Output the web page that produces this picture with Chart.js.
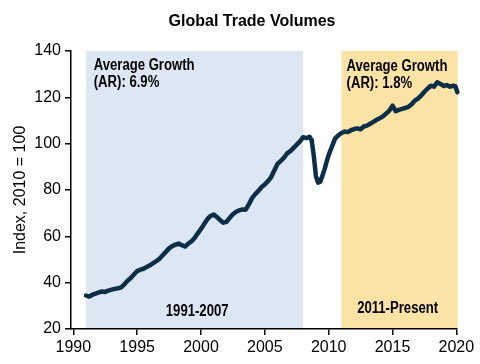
<!DOCTYPE html>
<html>
<head>
<meta charset="utf-8">
<script src="https://cdn.jsdelivr.net/npm/chart.js@4.4.1/dist/chart.umd.min.js"></script>
<style>
  html, body { margin: 0; padding: 0; background: #fff; }
</style>
</head>
<body>
<canvas id="tradeChart" width="480" height="364"></canvas>
<script>
// Global trade volume index (2010 = 100)
const years = [
  1991.0, 1991.25, 1991.5, 1991.75, 1992.0, 1992.25, 1992.5, 1992.75,
  1993.0, 1993.25, 1993.5, 1993.75, 1994.0, 1994.25, 1994.5, 1994.75,
  1995.0, 1995.25, 1995.5, 1995.75, 1996.0, 1996.25, 1996.5, 1996.75,
  1997.0, 1997.25, 1997.5, 1997.75, 1998.0, 1998.25, 1998.5, 1998.75,
  1999.0, 1999.25, 1999.5, 1999.75, 2000.0, 2000.25, 2000.5, 2000.75,
  2001.0, 2001.25, 2001.5, 2001.75, 2002.0, 2002.25, 2002.5, 2002.75,
  2003.0, 2003.25, 2003.5, 2003.75, 2004.0, 2004.25, 2004.5, 2004.75,
  2005.0, 2005.25, 2005.5, 2005.75, 2006.0, 2006.25, 2006.5, 2006.75,
  2007.0, 2007.25, 2007.5, 2007.75, 2008.0, 2008.25, 2008.5, 2008.67,
  2008.83, 2009.0, 2009.17, 2009.33, 2009.5, 2009.67, 2009.83, 2010.0,
  2010.17, 2010.33, 2010.5, 2010.75, 2011.0, 2011.25, 2011.5, 2011.75,
  2012.0, 2012.25, 2012.5, 2012.75, 2013.0, 2013.25, 2013.5, 2013.75,
  2014.0, 2014.25, 2014.5, 2014.75, 2015.0, 2015.25, 2015.5, 2015.75,
  2016.0, 2016.25, 2016.5, 2016.75, 2017.0, 2017.25, 2017.5, 2017.75,
  2018.0, 2018.25, 2018.5, 2018.75, 2019.0, 2019.25, 2019.5, 2019.75,
  2019.92, 2020.08
];
const tradeIndex = [
  34.4, 34.0, 34.8, 35.3, 35.8, 36.2, 36.0, 36.6,
  37.0, 37.3, 37.6, 38.0, 39.3, 40.8, 42.0, 43.5,
  45.0, 45.6, 46.0, 46.8, 47.5, 48.4, 49.3, 50.3,
  51.8, 53.3, 54.8, 55.8, 56.4, 56.9, 56.2, 55.6,
  56.9, 57.8, 59.3, 61.3, 63.2, 65.3, 67.4, 68.8,
  69.4, 68.3, 67.0, 65.9, 66.3, 68.0, 69.5, 70.6,
  71.2, 71.6, 71.5, 73.8, 76.5, 78.2, 79.6, 81.3,
  82.4, 83.8, 85.6, 88.5, 91.3, 92.6, 94.0, 95.8,
  96.8, 98.2, 99.6, 101.0, 102.8, 102.4, 103.0, 101.5,
  95.0, 86.0, 83.2, 83.5, 86.0, 88.8, 92.0, 95.2,
  97.5, 99.8, 102.2, 103.6, 104.6, 105.2, 105.0, 105.8,
  106.3, 106.6, 106.2, 107.4, 107.8, 108.6, 109.4, 110.3,
  111.0, 111.8, 113.0, 114.3, 116.4, 114.0, 114.6, 115.0,
  115.4, 115.9, 117.0, 118.6, 119.5, 120.8, 122.4, 123.8,
  125.0, 124.6, 126.5, 125.8, 124.9, 125.3, 124.6, 125.0,
  124.8, 122.2
];

// shaded periods (x in years)
const periods = [
  { from: 1991, to: 2008, color: '#dde7f4' },
  { from: 2011, to: 2020.1, color: '#fbe3a6' }
];

// text notes anchored in data coordinates
const notes = [
  { text: 'Average Growth', x: 1991.6, y: 131.8, align: 'left' },
  { text: '(AR): 6.9%', x: 1991.6, y: 124.5, align: 'left' },
  { text: 'Average Growth', x: 2011.4, y: 131.4, align: 'left' },
  { text: '(AR): 1.8%', x: 2011.4, y: 124.0, align: 'left' },
  { text: '1991-2007', x: 1999.7, y: 25.6, align: 'center' },
  { text: '2011-Present', x: 2015.4, y: 26.7, align: 'center' }
];

const chartTitle = 'Global Trade Volumes';
const yTitle = 'Index, 2010 = 100';

const baseFont = '"Liberation Sans", Arial, sans-serif';
// the notes use a narrow bold face; squeeze the regular one to match
const noteFont = 'bold 16px ' + baseFont;
const noteSqueeze = 0.82;

// bands go under the axes, notes and title go on top
const decorPlugin = {
  id: 'decor',
  beforeDraw(chart) {
    const { ctx, chartArea: a, scales: { x } } = chart;
    ctx.save();
    periods.forEach(p => {
      const x0 = Math.max(x.getPixelForValue(p.from), a.left);
      const x1 = Math.min(x.getPixelForValue(p.to), a.right + 1);
      ctx.fillStyle = p.color;
      ctx.fillRect(x0, a.top, x1 - x0, a.bottom - a.top);
    });
    ctx.restore();
  },
  afterDraw(chart) {
    const { ctx, scales: { x, y } } = chart;
    ctx.save();
    ctx.fillStyle = '#000';
    ctx.textBaseline = 'alphabetic';
    ctx.font = noteFont;
    notes.forEach(n => {
      ctx.save();
      ctx.translate(x.getPixelForValue(n.x), y.getPixelForValue(n.y));
      ctx.scale(noteSqueeze, 1);
      ctx.textAlign = n.align;
      ctx.fillText(n.text, 0, 0);
      ctx.restore();
    });
    ctx.font = 'bold 16px ' + baseFont;
    ctx.textAlign = 'center';
    ctx.fillText(chartTitle, 252, 26);
    ctx.restore();
  }
};

Chart.defaults.font.family = baseFont;
Chart.defaults.color = '#000';

const ctx = document.getElementById('tradeChart').getContext('2d');
new Chart(ctx, {
  type: 'line',
  data: {
    datasets: [{
      data: years.map((yr, i) => ({ x: yr, y: tradeIndex[i] })),
      borderColor: '#0c2e47',
      borderWidth: 4.5,
      borderJoinStyle: 'round',
      borderCapStyle: 'round',
      pointRadius: 0,
      tension: 0,
      fill: false,
      clip: 4
    }]
  },
  options: {
    responsive: false,
    animation: false,
    layout: { padding: { top: 51, right: 23, left: 0, bottom: 0 } },
    plugins: {
      legend: { display: false },
      tooltip: { enabled: false }
    },
    scales: {
      x: {
        type: 'linear',
        min: 1989.82,
        max: 2020.05,
        afterFit(scale) { scale.height = 35; },
        grid: { drawOnChartArea: false, drawTicks: true, tickLength: 6, color: '#000', lineWidth: 1.5 },
        border: { color: '#000', width: 1.5 },
        ticks: {
          stepSize: 5,
          includeBounds: false,
          autoSkip: false,
          maxRotation: 0,
          padding: 3,
          font: { size: 16 },
          color: '#000',
          callback: v => String(v)
        }
      },
      y: {
        min: 20,
        max: 140,
        afterFit(scale) { scale.width = 71; },
        grid: { drawOnChartArea: false, drawTicks: true, tickLength: 6, color: '#000', lineWidth: 1.5 },
        border: { color: '#000', width: 1.5 },
        title: {
          display: true,
          text: yTitle,
          font: { size: 16 },
          color: '#000',
          padding: { top: 11, bottom: 0 }
        },
        ticks: {
          stepSize: 20,
          padding: 4,
          font: { size: 16 },
          color: '#000'
        }
      }
    }
  },
  plugins: [decorPlugin]
});
</script>
</body>
</html>
